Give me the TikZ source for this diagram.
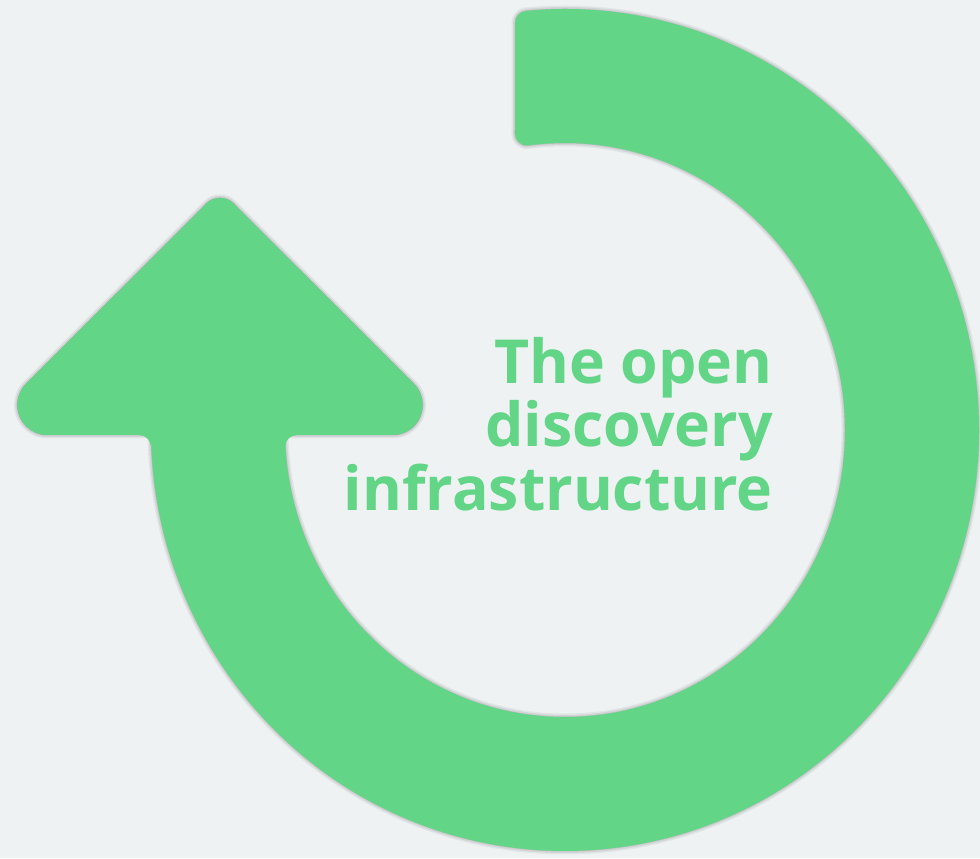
\documentclass[tikz,border=0pt]{standalone}
\usepackage{fontspec}
\setmainfont{Open Sans}
\usetikzlibrary{calc}
\definecolor{leaf}{HTML}{62D587}
\definecolor{paper}{HTML}{EEF2F3}
\newcommand\ringpath{($(hub)+(95.42:402 and 409)$) arc[start angle=95.42,end angle=-180,x radius=402,y radius=409] -- ++(110,0) arc[start angle=-180,end angle=97.48,x radius=292,y radius=299] -- cycle}
\newcommand\headpath{($(tip)+(135:19)$) arc[start angle=135,end angle=45,radius=19] -- ($(barbr)+(45:30)$) arc[start angle=45,end angle=-90,radius=30] -- ($(barbl)+(-90:30)$) arc[start angle=-90,end angle=-225,radius=30] -- cycle}
\tikzset{title/.style={anchor=base east, text=leaf, inner sep=0pt, font=\fontsize{43.2}{45}\selectfont\bfseries}}
\begin{document}
\begin{tikzpicture}[x=0.25mm, y=0.25mm, line join=round]
\fill[paper] (0,0) rectangle (980,858);
\useasboundingbox (0,0) rectangle (980,858);
\coordinate (hub) at (565,428);
\coordinate (tip) at (220,641.1);
\coordinate (barbl) at (47.4,453);
\coordinate (barbr) at (392.6,453);

% soft shadow
\begin{scope}[shift={(1,-4)}]
\foreach \w/\v/\o in {7.75mm/1.75mm/.05, 7mm/1mm/.07, 6.25mm/.25mm/.09}{
  \filldraw[black, opacity=\o, line width=\w] \ringpath;
  \filldraw[black, opacity=\o, line width=\v] \headpath;
}
\end{scope}

\filldraw[leaf, line width=6mm] \ringpath;
\fill[leaf] \headpath;
% small fillets where the stem meets the head
\fill[leaf] (151,411) arc[start angle=0,end angle=90,radius=12] -- (151,423) -- cycle;
\fill[leaf] (285,411) arc[start angle=180,end angle=90,radius=12] -- (285,423) -- cycle;

\node (open) [title] at (773,474.7) {The open};
\node (discovery) [title] at (773,411.3) {discovery};
\node (infra) [title] at (773,348) {infrastructure};
\end{tikzpicture}
\end{document}
